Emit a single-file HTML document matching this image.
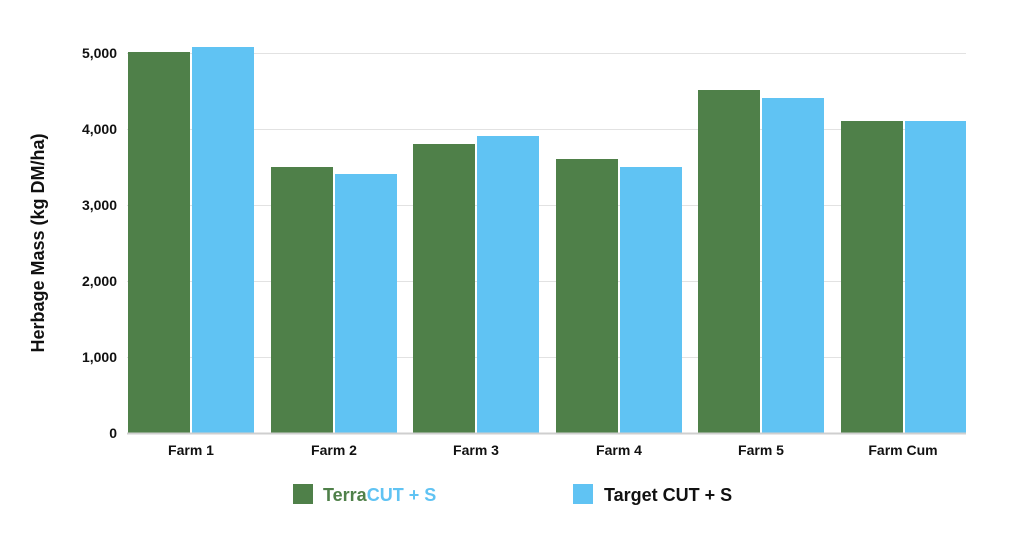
<!DOCTYPE html>
<html><head><meta charset="utf-8"><style>
html,body{margin:0;padding:0;background:#fff;}
svg{display:block;font-family:"Liberation Sans",sans-serif;font-weight:bold;}
</style></head><body>
<svg width="1024" height="536" viewBox="0 0 1024 536">
<g stroke="#e2e2e2" stroke-width="1">
<line x1="127" x2="966" y1="53.5" y2="53.5"/>
<line x1="127" x2="966" y1="129.5" y2="129.5"/>
<line x1="127" x2="966" y1="205.5" y2="205.5"/>
<line x1="127" x2="966" y1="281.5" y2="281.5"/>
<line x1="127" x2="966" y1="357.5" y2="357.5"/>
</g>
<g font-size="14" fill="#111" text-anchor="end">
<text x="117" y="58">5,000</text>
<text x="117" y="134">4,000</text>
<text x="117" y="210">3,000</text>
<text x="117" y="286">2,000</text>
<text x="117" y="362">1,000</text>
<text x="117" y="438">0</text>
</g>
<text transform="translate(44,243) rotate(-90)" text-anchor="middle" font-size="18" fill="#111">Herbage Mass (kg DM/ha)</text>
<g>
<rect x="128" y="52" width="62" height="381" fill="#4f8049"/>
<rect x="192" y="47" width="62" height="386" fill="#60c3f3"/>
<rect x="271" y="167" width="62" height="266" fill="#4f8049"/>
<rect x="335" y="174" width="62" height="259" fill="#60c3f3"/>
<rect x="413" y="144" width="62" height="289" fill="#4f8049"/>
<rect x="477" y="136" width="62" height="297" fill="#60c3f3"/>
<rect x="556" y="159" width="62" height="274" fill="#4f8049"/>
<rect x="620" y="167" width="62" height="266" fill="#60c3f3"/>
<rect x="698" y="90" width="62" height="343" fill="#4f8049"/>
<rect x="762" y="98" width="62" height="335" fill="#60c3f3"/>
<rect x="841" y="121" width="62" height="312" fill="#4f8049"/>
<rect x="905" y="121" width="61" height="312" fill="#60c3f3"/>
</g>
<line x1="127" x2="966" y1="433.5" y2="433.5" stroke="#cfcfcf" stroke-width="2"/>
<g font-size="14" fill="#111" text-anchor="middle">
<text x="191" y="455">Farm 1</text>
<text x="334" y="455">Farm 2</text>
<text x="476" y="455">Farm 3</text>
<text x="619" y="455">Farm 4</text>
<text x="761" y="455">Farm 5</text>
<text x="903" y="455">Farm Cum</text>
</g>
<rect x="293" y="484" width="20" height="20" fill="#4f8049"/>
<text x="323" y="501" font-size="18" fill="#4f8049">Terra<tspan fill="#60c3f3">CUT + S</tspan></text>
<rect x="573" y="484" width="20" height="20" fill="#60c3f3"/>
<text x="604" y="501" font-size="18" fill="#111">Target CUT + S</text>
</svg>
</body></html>
